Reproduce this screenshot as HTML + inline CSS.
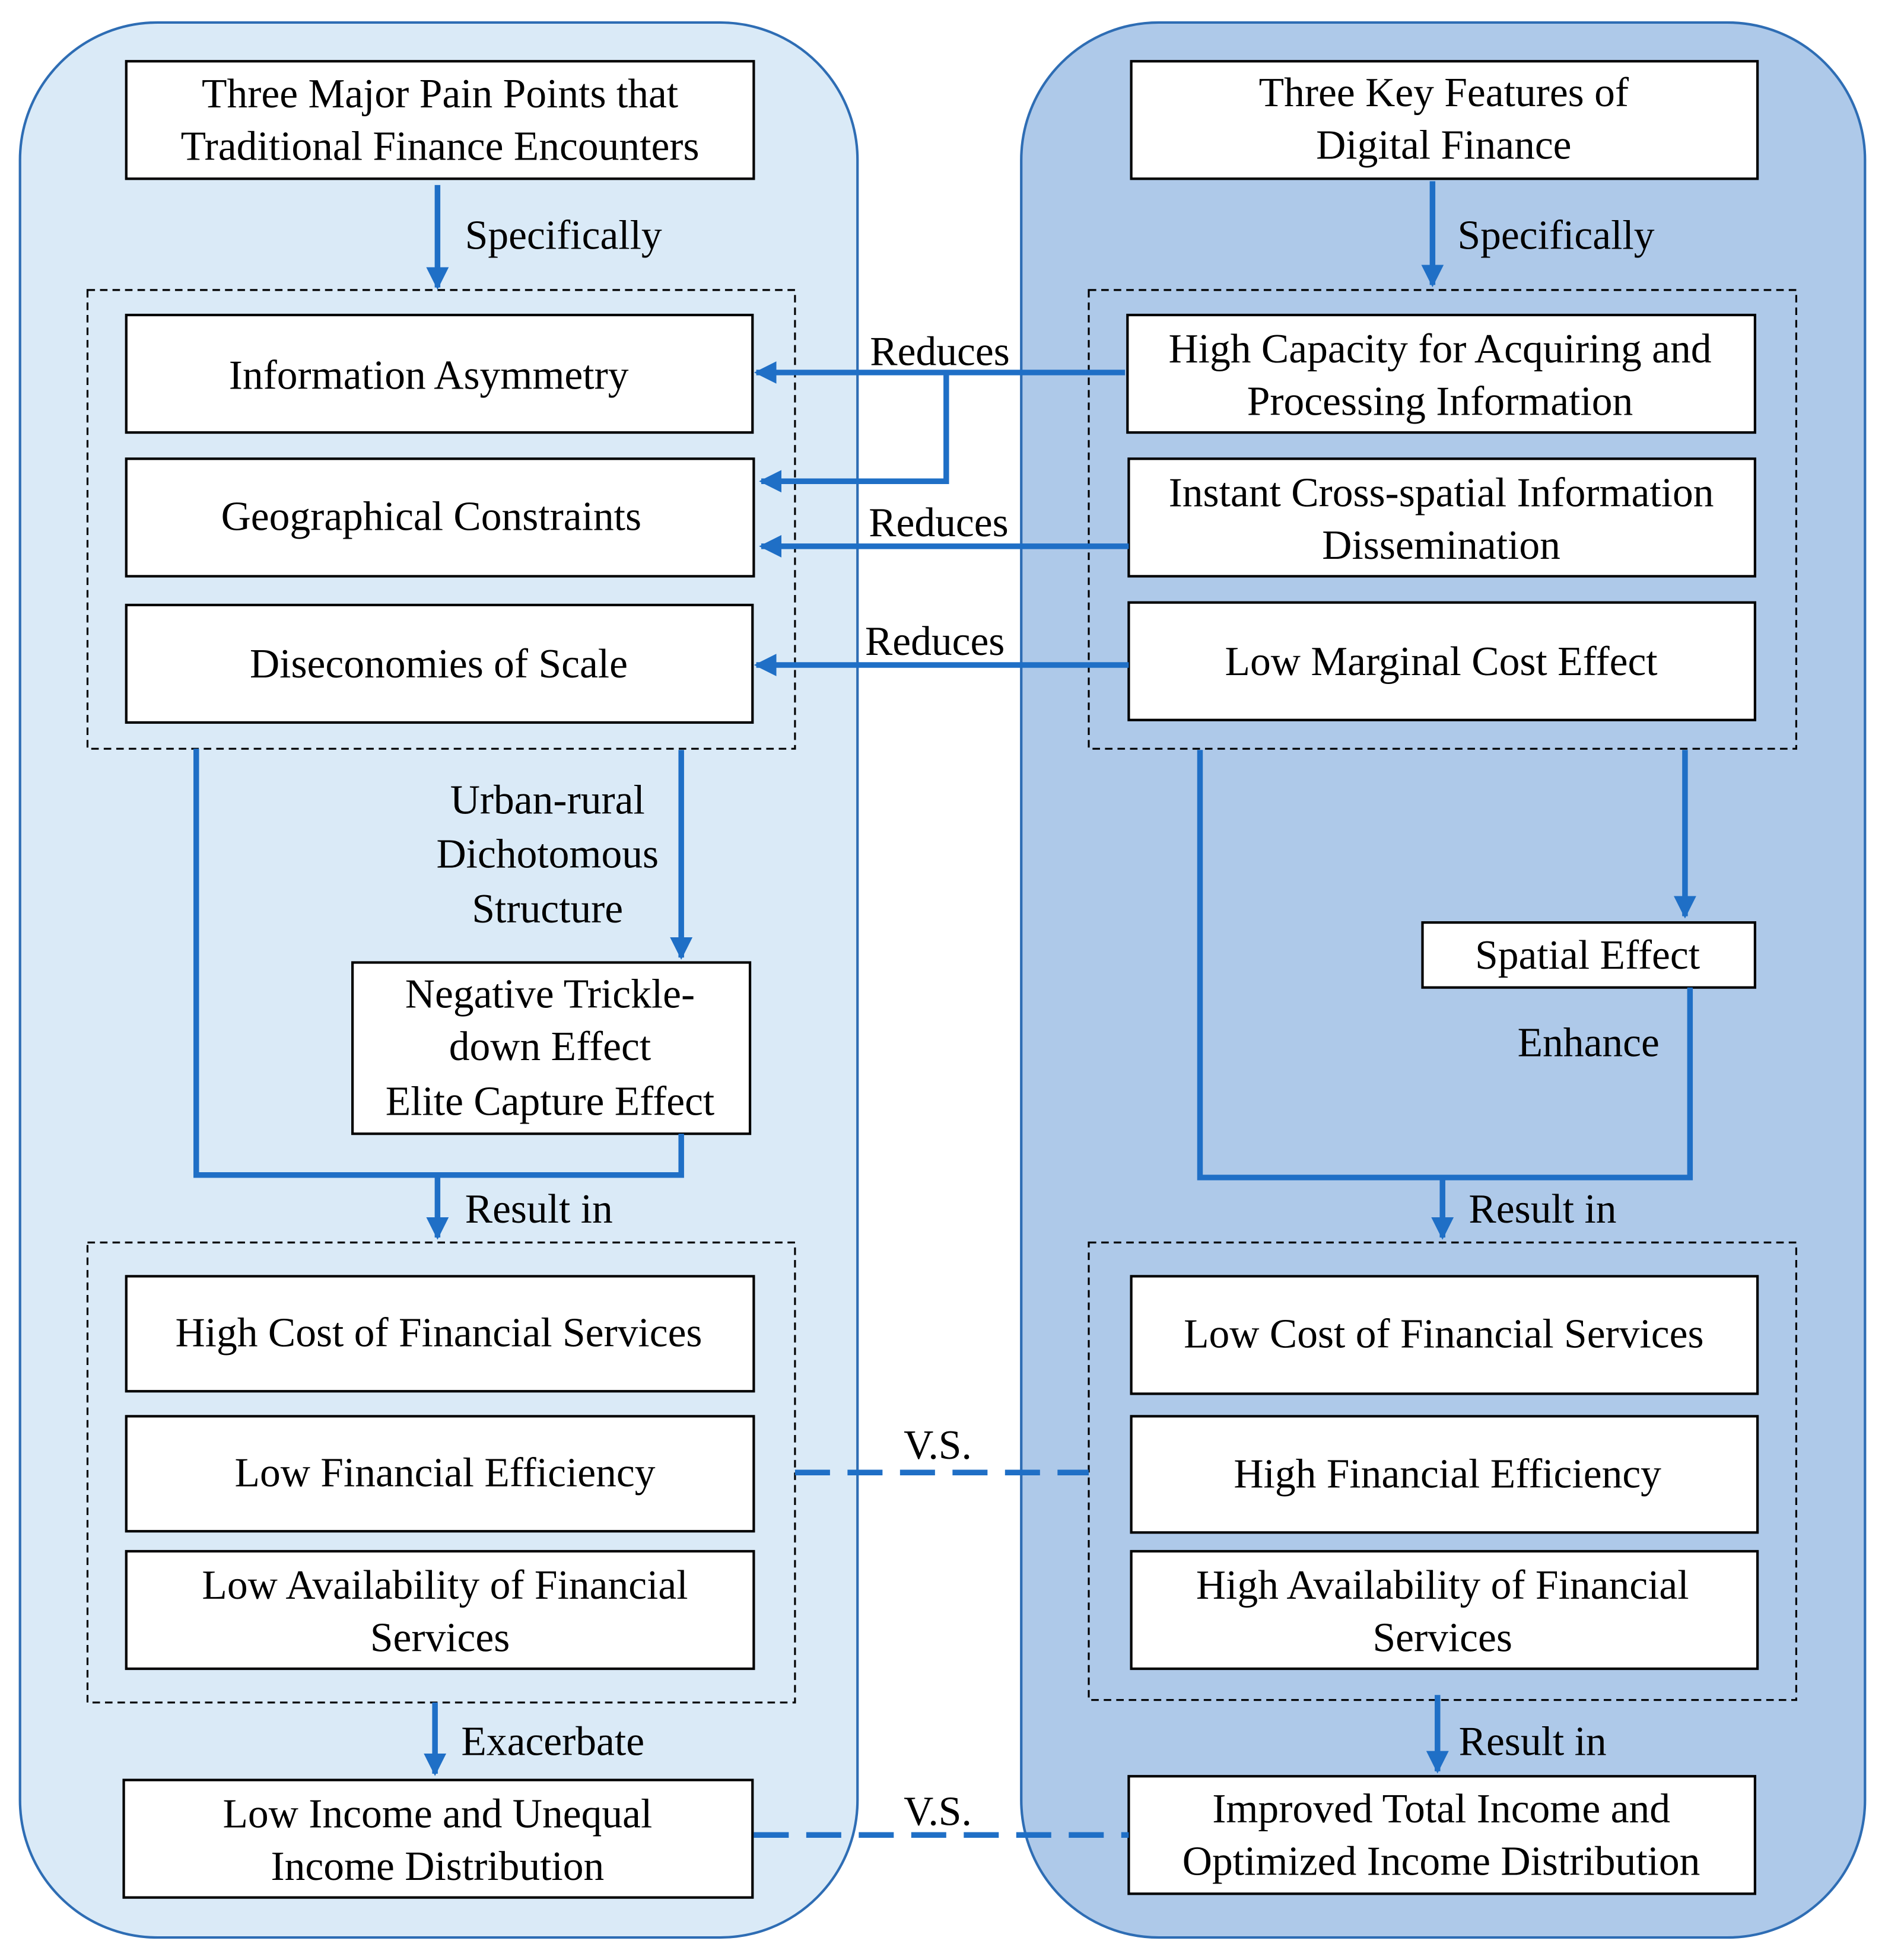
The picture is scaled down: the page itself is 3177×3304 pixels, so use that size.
<!DOCTYPE html>
<html><head><meta charset="utf-8"><style>
html,body{margin:0;padding:0;background:#fff}
svg{display:block}
svg text{font-family:'Liberation Serif','Times New Roman',Times,serif;font-size:33px;fill:#000}
</style></head><body>
<svg width="3177" height="3304" viewBox="0 0 1508 1568" preserveAspectRatio="none" xmlns="http://www.w3.org/2000/svg" font-family="Liberation Serif, Times New Roman, serif">
<defs>
<marker id="a" viewBox="0 0 10 10" refX="9" refY="5" markerWidth="4" markerHeight="4" orient="auto-start-reverse" markerUnits="strokeWidth">
<path d="M0,0 L10,5 L0,10 z" fill="#1f6fc6"/></marker>
</defs>
<rect x="16" y="18" width="670" height="1532" rx="110" fill="#daeaf7" stroke="#2e6db4" stroke-width="2"/>
<rect x="817" y="18" width="675" height="1532" rx="110" fill="#aec9e9" stroke="#2e6db4" stroke-width="2"/>
<g fill="none" stroke="#000" stroke-width="1.5" stroke-dasharray="6,4">
<rect x="70" y="232" width="566" height="367"/>
<rect x="70" y="994" width="566" height="368"/>
<rect x="871" y="232" width="566" height="367"/>
<rect x="871" y="994" width="566" height="366"/>
</g>
<g fill="#fff" stroke="#000" stroke-width="2">
<rect x="101" y="49" width="502" height="94"/>
<rect x="101" y="252" width="501" height="94"/>
<rect x="101" y="367" width="502" height="94"/>
<rect x="101" y="484" width="501" height="94"/>
<rect x="282" y="770" width="318" height="137"/>
<rect x="101" y="1021" width="502" height="92"/>
<rect x="101" y="1133" width="502" height="92"/>
<rect x="101" y="1241" width="502" height="94"/>
<rect x="99" y="1424" width="503" height="94"/>
<rect x="905" y="49" width="501" height="94"/>
<rect x="902" y="252" width="502" height="94"/>
<rect x="903" y="367" width="501" height="94"/>
<rect x="903" y="482" width="501" height="94"/>
<rect x="1138" y="738" width="266" height="52"/>
<rect x="905" y="1021" width="501" height="94"/>
<rect x="905" y="1133" width="501" height="93"/>
<rect x="905" y="1241" width="501" height="94"/>
<rect x="903" y="1421" width="501" height="94"/>
</g>
<g fill="none" stroke="#1f6fc6" stroke-width="4.5">
<path d="M350,148 V230" marker-end="url(#a)"/>
<path d="M1146,145 V228" marker-end="url(#a)"/>
<path d="M900,298 H605" marker-end="url(#a)"/>
<path d="M757,298 V385 H609" marker-end="url(#a)"/>
<path d="M903,437 H609" marker-end="url(#a)"/>
<path d="M903,532 H605" marker-end="url(#a)"/>
<path d="M157,599 V940 H545 V907"/>
<path d="M545,600 V766" marker-end="url(#a)"/>
<path d="M350,940 V990" marker-end="url(#a)"/>
<path d="M960,600 V942 H1352 V790"/>
<path d="M1348,600 V733" marker-end="url(#a)"/>
<path d="M1154,942 V990" marker-end="url(#a)"/>
<path d="M348,1362 V1419" marker-end="url(#a)"/>
<path d="M1150,1356 V1417" marker-end="url(#a)"/>
<path d="M636,1178 H871" stroke-dasharray="28,14"/>
<path d="M603,1468 H903" stroke-dasharray="28,14"/>
</g>
<g text-anchor="middle">
<text x="352" y="86">Three Major Pain Points that</text>
<text x="352" y="128">Traditional Finance Encounters</text>
<text x="343" y="311">Information Asymmetry</text>
<text x="345" y="424">Geographical Constraints</text>
<text x="351" y="542">Diseconomies of Scale</text>
<text x="440" y="806">Negative Trickle-</text>
<text x="440" y="848">down Effect</text>
<text x="440" y="892">Elite Capture Effect</text>
<text x="351" y="1077">High Cost of Financial Services</text>
<text x="356" y="1189">Low Financial Efficiency</text>
<text x="356" y="1279">Low Availability of Financial</text>
<text x="352" y="1321">Services</text>
<text x="350" y="1462">Low Income and Unequal</text>
<text x="350" y="1504">Income Distribution</text>
<text x="1155" y="85">Three Key Features of</text>
<text x="1155" y="127">Digital Finance</text>
<text x="1152" y="290">High Capacity for Acquiring and</text>
<text x="1152" y="332">Processing Information</text>
<text x="1153" y="405">Instant Cross-spatial Information</text>
<text x="1153" y="447">Dissemination</text>
<text x="1153" y="540">Low Marginal Cost Effect</text>
<text x="1270" y="775">Spatial Effect</text>
<text x="1155" y="1078">Low Cost of Financial Services</text>
<text x="1158" y="1190">High Financial Efficiency</text>
<text x="1154" y="1279">High Availability of Financial</text>
<text x="1154" y="1321">Services</text>
<text x="1153" y="1458">Improved Total Income and</text>
<text x="1153" y="1500">Optimized Income Distribution</text>
<text x="438" y="651">Urban-rural</text>
<text x="438" y="694">Dichotomous</text>
<text x="438" y="738">Structure</text>
</g>
<g>
<text x="372" y="199">Specifically</text>
<text x="1166" y="199">Specifically</text>
<text x="696" y="292">Reduces</text>
<text x="695" y="429">Reduces</text>
<text x="692" y="524">Reduces</text>
<text x="372" y="978">Result in</text>
<text x="1175" y="978">Result in</text>
<text x="1214" y="845">Enhance</text>
<text x="369" y="1404">Exacerbate</text>
<text x="1167" y="1404">Result in</text>
<text x="723" y="1167">V.S.</text>
<text x="723" y="1460">V.S.</text>
</g>
</svg>
</body></html>
